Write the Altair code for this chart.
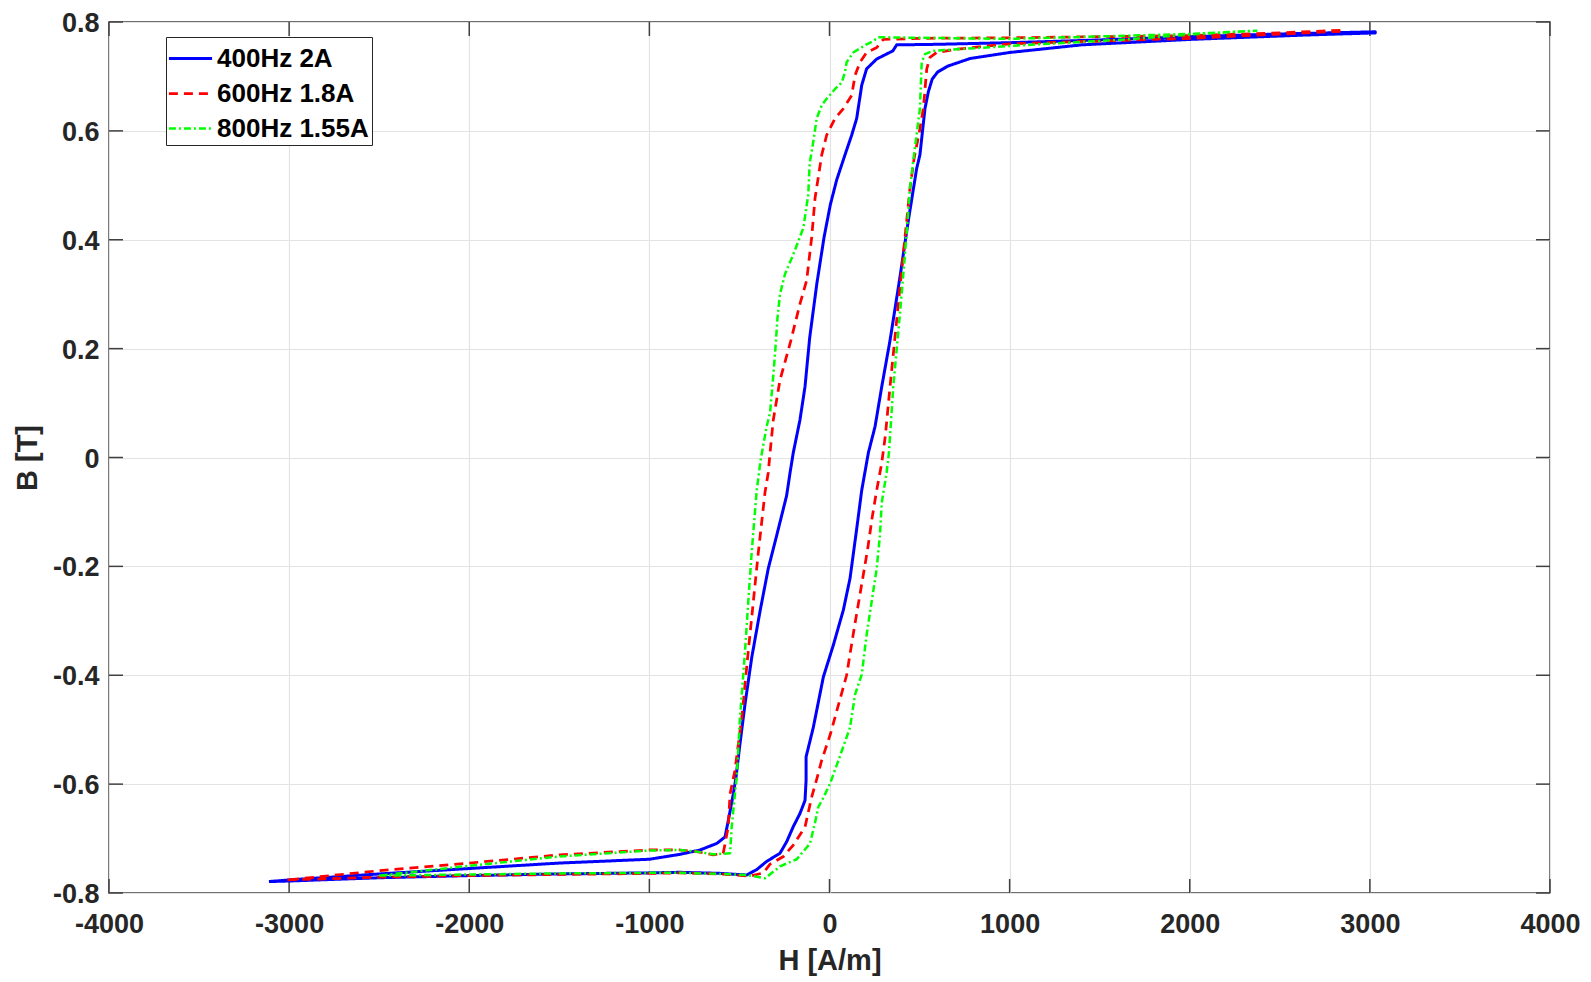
import altair as alt
import pandas as pd

# ---------------- data ----------------
series_names = ["400Hz 2A", "600Hz 1.8A", "800Hz 1.55A"]
series_colors = ["#0000ff", "#ff0000", "#00ff00"]

x_ticks = [-4000, -3000, -2000, -1000, 0, 1000, 2000, 3000, 4000]
y_ticks = [-0.8, -0.6, -0.4, -0.2, 0, 0.2, 0.4, 0.6, 0.8]

# 400Hz 2A : closed loop, starting at the negative tip
h_400 = [-3112, -3000, -2500, -2000, -1500, -1000, -830, -600, -460, -404, -349, -275,
         -238, -201, -164, -136, -130, -130, -90, -34, 21, 77, 114, 151, 179, 216, 253,
         290, 336, 391, 437, 484, 502, 530, 549, 570, 600, 657, 781, 1000, 1400, 2000,
         2640, 3030,
         3030, 2500, 2000, 1500, 1000, 600, 373, 352, 262, 206, 179, 151, 123, 86, 40,
         5, -30, -70, -110, -136, -164, -201, -219, -238, -293, -340, -386, -432, -469,
         -497, -519, -534, -562, -580, -626, -719, -830, -1000, -1500, -2000, -2500,
         -3000, -3112]
b_400 = [-0.779, -0.778, -0.772, -0.768, -0.765, -0.763, -0.762, -0.764, -0.767, -0.757,
         -0.742, -0.727, -0.706, -0.678, -0.654, -0.630, -0.593, -0.550, -0.496, -0.403,
         -0.345, -0.280, -0.222, -0.131, -0.060, 0.009, 0.057, 0.130, 0.215, 0.331, 0.434,
         0.531, 0.556, 0.641, 0.672, 0.695, 0.708, 0.719, 0.733, 0.744, 0.758, 0.768,
         0.776, 0.780,
         0.782, 0.778, 0.773, 0.767, 0.762, 0.759, 0.758, 0.747, 0.732, 0.714, 0.684,
         0.623, 0.592, 0.556, 0.510, 0.465, 0.405, 0.320, 0.220, 0.130, 0.069, 0.009,
         -0.028, -0.070, -0.143, -0.204, -0.283, -0.368, -0.453, -0.526, -0.587, -0.618,
         -0.667, -0.697, -0.709, -0.721, -0.729, -0.738, -0.745, -0.755, -0.765, -0.776,
         -0.779]

# 600Hz 1.8A
h_600 = [-3010, -2500, -2000, -1500, -1000, -830, -600, -441, -367, -330, -256, -201,
         -136, -100, -70, -44, 5, 45, 95, 137, 175, 211, 237, 262, 290, 310, 336, 382,
         419, 447, 470, 500, 521, 540, 558, 595, 707, 1000, 2000, 2640, 2850,
         2850, 2500, 2000, 1000, 500, 299, 262, 206, 169, 142, 123, 77, 31, -16, -43,
         -80, -99, -127, -164, -219, -275, -312, -330, -340, -358, -395, -423, -451,
         -487, -525, -552, -562, -590, -645, -737, -830, -1000, -1500, -2000, -2500,
         -3010]
b_600 = [-0.776, -0.771, -0.768, -0.766, -0.764, -0.763, -0.765, -0.769, -0.763, -0.747,
         -0.733, -0.712, -0.679, -0.625, -0.590, -0.557, -0.508, -0.460, -0.400, -0.314,
         -0.240, -0.170, -0.110, -0.060, -0.010, 0.040, 0.130, 0.282, 0.404, 0.495,
         0.550, 0.600, 0.641, 0.714, 0.735, 0.744, 0.750, 0.760, 0.770, 0.780, 0.783,
         0.785, 0.780, 0.775, 0.771, 0.770, 0.768, 0.753, 0.744, 0.726, 0.702, 0.665,
         0.641, 0.623, 0.592, 0.556, 0.477, 0.404, 0.325, 0.282, 0.209, 0.142, 0.069,
         0.009, -0.028, -0.064, -0.174, -0.265, -0.356, -0.478, -0.575, -0.618, -0.678,
         -0.727, -0.730, -0.724, -0.721, -0.721, -0.730, -0.745, -0.759, -0.776]

# 800Hz 1.55A
h_800 = [-2500, -2000, -1500, -1000, -830, -600, -460, -358, -275, -182, -108, -80, -62,
         -34, 3, 49, 114, 142, 179, 206, 234, 262, 280, 290, 317, 330, 354, 391, 419,
         447, 465, 502, 512, 530, 576, 1000, 1648, 2000, 2370,
         2370, 2000, 1000, 500, 271, 243, 206, 132, 95, 86, 68, 31, -16, -43, -71, -90,
         -110, -118, -145, -201, -247, -275, -290, -297, -308, -330, -349, -382, -404,
         -432, -451, -469, -497, -515, -525, -543, -552, -645, -737, -830, -1000, -1500,
         -2000, -2500]
b_800 = [-0.768, -0.766, -0.764, -0.763, -0.763, -0.765, -0.767, -0.773, -0.751, -0.738,
         -0.709, -0.670, -0.642, -0.625, -0.599, -0.557, -0.496, -0.435, -0.399, -0.326,
         -0.265, -0.204, -0.143, -0.083, -0.028, 0.009, 0.130, 0.264, 0.373, 0.495,
         0.545, 0.641, 0.726, 0.741, 0.747, 0.756, 0.768, 0.777, 0.784,
         0.784, 0.778, 0.769, 0.771, 0.772, 0.765, 0.759, 0.744, 0.726, 0.708, 0.689,
         0.677, 0.659, 0.647, 0.623, 0.580, 0.540, 0.483, 0.422, 0.373, 0.337, 0.300,
         0.252, 0.215, 0.167, 0.082, 0.057, -0.004, -0.060, -0.174, -0.265, -0.356,
         -0.478, -0.587, -0.618, -0.678, -0.727, -0.729, -0.724, -0.721, -0.722, -0.733,
         -0.750, -0.768]

# ---------------- build table ----------------
rows = []
for name, hs, bs in zip(series_names, [h_400, h_600, h_800], [b_400, b_600, b_800]):
    for i, (h, b) in enumerate(zip(hs, bs)):
        rows.append({"series": name, "H": h, "B": b, "order": i})
df = pd.DataFrame(rows)

W, H = 1441, 871
FONT = "Liberation Sans"
FRAME = "#404040"

x_axis = alt.Axis(values=x_ticks, title="H [A/m]", labelPadding=18, titlePadding=9,
                  labelFlush=False)
y_axis = alt.Axis(values=y_ticks, title="B [T]", labelPadding=10, titlePadding=10,
                  labelFlush=False, labelOffset=1.5)
x_scale = alt.Scale(domain=[-4000, 4000], nice=False, zero=False)
y_scale = alt.Scale(domain=[-0.8, 0.8], nice=False, zero=False)

legend_def = alt.Legend(
    title=None, orient="none", legendX=57, legendY=15,
    fillColor="white", strokeColor="#262626", padding=3,
    labelFont=FONT, labelFontSize=26, labelFontWeight="bold", labelColor="#000000",
    symbolType="M-1.27,0H1.27", symbolSize=1156, symbolOffset=3,
    labelOffset=8, rowPadding=3,
)

lines = alt.Chart(df).mark_line(strokeCap="butt", strokeJoin="round").encode(
    x=alt.X("H:Q", scale=x_scale, axis=x_axis),
    y=alt.Y("B:Q", scale=y_scale, axis=y_axis),
    color=alt.Color("series:N", scale=alt.Scale(domain=series_names, range=series_colors),
                    legend=legend_def),
    strokeDash=alt.StrokeDash("series:N",
                              scale=alt.Scale(domain=series_names,
                                              range=[[1, 0], [9, 6], [7, 3, 2, 3]]),
                              legend=legend_def),
    strokeWidth=alt.StrokeWidth("series:N",
                                scale=alt.Scale(domain=series_names, range=[3, 2.5, 2]),
                                legend=legend_def),
    order="order:Q",
)

xt = pd.DataFrame({"H": x_ticks})
yt = pd.DataFrame({"B": y_ticks})
tick_style = dict(color=FRAME, strokeWidth=1.5)
x_bot = alt.Chart(xt).mark_rule(**tick_style).encode(
    x=alt.X("H:Q", scale=x_scale, axis=x_axis), y=alt.value(H), y2=alt.value(H - 14))
x_top = alt.Chart(xt).mark_rule(**tick_style).encode(
    x=alt.X("H:Q", scale=x_scale, axis=x_axis), y=alt.value(0), y2=alt.value(14))
y_left = alt.Chart(yt).mark_rule(**tick_style).encode(
    y=alt.Y("B:Q", scale=y_scale, axis=y_axis), x=alt.value(0), x2=alt.value(14))
y_right = alt.Chart(yt).mark_rule(**tick_style).encode(
    y=alt.Y("B:Q", scale=y_scale, axis=y_axis), x=alt.value(W), x2=alt.value(W - 14))

chart = alt.layer(x_bot, x_top, y_left, y_right, lines).properties(
    width=W, height=H, background="white",
    autosize=alt.AutoSizeParams(type="none"),
    padding={"left": 101, "top": 14, "right": 33, "bottom": 88},
).configure_view(
    stroke=FRAME, strokeWidth=1.5, fill="white"
).configure_axis(
    domain=False, ticks=False, grid=True, gridColor="#e3e3e3", gridWidth=1.2,
    labelFont=FONT, labelFontSize=27, labelFontWeight="bold", labelColor="#262626",
    titleFont=FONT, titleFontSize=29, titleFontWeight="bold", titleColor="#262626",
    labelExpr="'' + datum.value",
)

chart.save("out.html", embed_options={"renderer": "svg", "actions": False})
